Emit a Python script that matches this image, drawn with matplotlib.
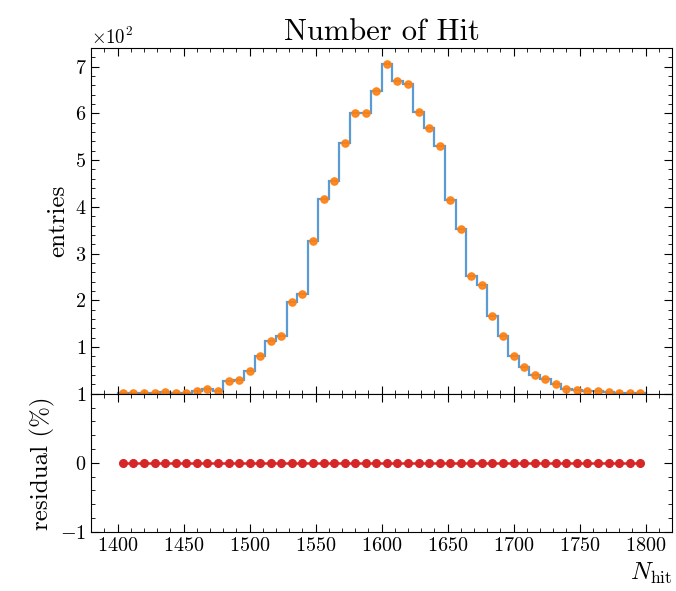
import numpy as np
import matplotlib
matplotlib.use("Agg")
import matplotlib.pyplot as plt
from matplotlib import ticker

# ── Schrift: Computer Modern wie im LaTeX-Plot ───────────────
plt.rcParams['font.family'] = 'serif'
plt.rcParams['font.serif'] = ['cmr10']
plt.rcParams['mathtext.fontset'] = 'cm'
plt.rcParams['axes.formatter.use_mathtext'] = True
plt.rcParams['axes.unicode_minus'] = True

# ── Daten ────────────────────────────────────────────────────
bin_centers = np.arange(1404, 1800, 8)
entries = [1, 1, 1, 1, 3, 2, 2, 5.6, 10, 7,
           27, 30, 49, 80, 113, 124, 196, 214, 327, 416,
           455, 536, 601, 600, 648, 705, 670, 664, 603, 568,
           531, 414, 353, 252, 233, 167, 123, 81, 58, 41,
           32, 20, 10, 8.6, 7, 5, 3, 2, 2, 1]
residual = [0.0] * len(bin_centers)

bin_width = 8
edges = np.append(bin_centers - bin_width / 2, bin_centers[-1] + bin_width / 2)

# ── Figur ────────────────────────────────────────────────────
fig, (ax, axr) = plt.subplots(2, 1, figsize=(6.76, 5.91), dpi=100, sharex=True,
                              gridspec_kw={'height_ratios': [2.5, 1], 'hspace': 0})
fig.subplots_adjust(left=0.135, right=0.994, top=0.918, bottom=0.100)

ax.stairs(entries, edges, color='#5b9bd5', lw=1.6)
ax.plot(bin_centers, entries, 'o', color='#ff7f0e', ms=5.2, alpha=0.9)
ax.set_ylim(0, 739)
ax.set_title('Number of Hit', fontsize=22)
ax.set_ylabel('entries', fontsize=18)

fmt = ticker.ScalarFormatter(useMathText=True)
fmt.set_powerlimits((0, 0))
ax.yaxis.set_major_formatter(fmt)
ax.yaxis.get_offset_text().set_fontsize(13.5)
ax.set_yticks(np.arange(100, 701, 100))
ax.yaxis.set_minor_locator(ticker.MultipleLocator(20))

axr.plot(bin_centers, residual, 'o-', color='#d62728', ms=5.5, lw=1.8)
axr.set_ylim(-1, 1)
axr.set_yticks([-1, 0, 1])
axr.yaxis.set_minor_locator(ticker.MultipleLocator(0.2))
axr.set_ylabel('residual (%)', fontsize=18)
axr.set_xlim(1380, 1820)
axr.xaxis.set_major_locator(ticker.MultipleLocator(50))
axr.xaxis.set_minor_locator(ticker.MultipleLocator(10))
axr.set_xlabel(r'$N_{\rm hit}$', fontsize=18, loc='right')

for a in (ax, axr):
    a.tick_params(which='both', direction='in', top=True, right=True, labelsize=14.5)
    a.tick_params(which='major', length=6)
    a.tick_params(which='minor', length=3)

plt.savefig('out.png', dpi=100)
